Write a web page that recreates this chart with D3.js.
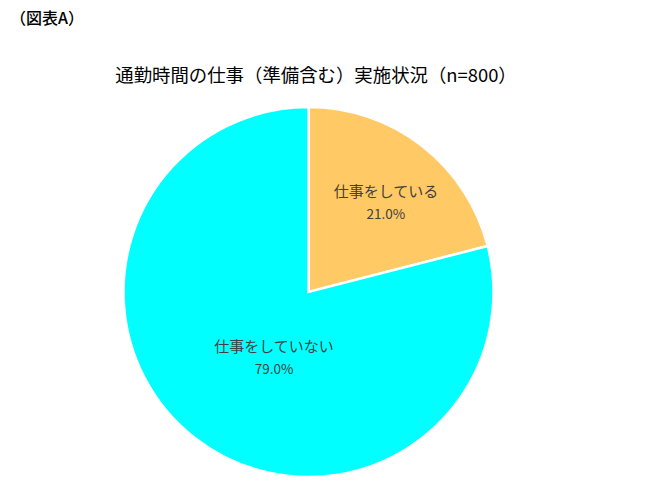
<!DOCTYPE html>
<html><head><meta charset="utf-8">
<script src="https://cdn.jsdelivr.net/npm/d3@7"></script>
<style>body{margin:0;background:#fff;} svg{display:block;}</style>
</head><body>
<svg id="c" width="667" height="500"></svg>
<script>
const categories = ["仕事をしている", "仕事をしていない"];
const values = [21.0, 79.0];
const colors = ["#FFCA66", "#00FFFF"];

// label placement (radius fraction, angle shift in degrees) — Excel "best fit"
const labelRadius = [0.646, 0.393];
const labelShift = [2.6, -9.5];

const svg = d3.select("#c");
const font = "'Noto Sans CJK JP', 'Noto Sans', sans-serif";
svg.append("text").attr("x", 10).attr("y", 24).attr("font-family", font)
  .attr("font-size", 16).attr("font-weight", 500).attr("fill", "#000").text("（図表A）");
svg.append("text").attr("x", 316).attr("y", 82).attr("text-anchor", "middle")
  .attr("font-family", font).attr("font-size", 18.4).attr("fill", "#000")
  .text("通勤時間の仕事（準備含む）実施状況（n=800）");

const cx = 308.5, cy = 292, r = 185;
const pie = d3.pie().sort(null).value(d => d)(values);
const arc = d3.arc().innerRadius(0).outerRadius(r);
const g = svg.append("g").attr("transform", `translate(${cx},${cy})`);
g.selectAll("path").data(pie).join("path")
  .attr("d", arc).attr("fill", (d, i) => colors[i])
  .attr("stroke", "#fff").attr("stroke-width", 2.5).attr("stroke-linejoin", "miter");

pie.forEach((d, i) => {
  const lr = r * labelRadius[i];
  const sh = labelShift[i] * Math.PI / 180;
  const [x, y] = d3.arc().innerRadius(lr).outerRadius(lr)
    .centroid({startAngle: d.startAngle + sh, endAngle: d.endAngle + sh});
  const t = g.append("text").attr("text-anchor", "middle").attr("font-family", font).attr("fill", "#404040");
  t.append("tspan").attr("x", x).attr("y", y - 4).attr("font-size", 15).text(categories[i]);
  t.append("tspan").attr("x", x).attr("y", y + 18).attr("font-size", 13.5).text(values[i].toFixed(1) + "%");
});
</script>
</body></html>
